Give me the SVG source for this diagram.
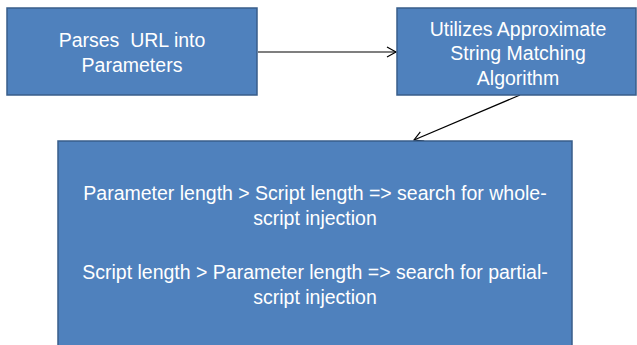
<svg xmlns="http://www.w3.org/2000/svg" width="637" height="345" viewBox="0 0 637 345">
<style>
.box{fill:#4F81BD;stroke:#385D8A;stroke-width:1.5}
.t{font-family:"Liberation Sans",Arial,sans-serif;font-size:19.5px;fill:#FFFFFF;text-anchor:middle}
.c{stroke:#000;stroke-width:1.2;fill:none}
</style>
<defs>
<marker id="ah" markerWidth="12" markerHeight="12" refX="10" refY="6" orient="auto" markerUnits="userSpaceOnUse">
<path d="M1,1 L10,6 L1,11" fill="none" stroke="#000" stroke-width="1.2"/>
</marker>
</defs>
<g id="connectors">
<line class="c" x1="258" y1="52" x2="396" y2="52" marker-end="url(#ah)"/>
<line class="c" x1="520" y1="95" x2="414" y2="140" marker-end="url(#ah)"/>
</g>
<g id="node1">
<rect class="box" x="7" y="8" width="250" height="87"/>
<text class="t" x="132" y="47" xml:space="preserve">Parses  URL into</text>
<text class="t" x="132" y="72">Parameters</text>
</g>
<g id="node2">
<rect class="box" x="397" y="8" width="239" height="87"/>
<text class="t" x="518" y="36">Utilizes Approximate</text>
<text class="t" x="518" y="60">String Matching</text>
<text class="t" x="518" y="85">Algorithm</text>
</g>
<g id="node3">
<rect class="box" x="58" y="141" width="514" height="210"/>
<text class="t" x="315" y="200">Parameter length &gt; Script length =&gt; search for whole-</text>
<text class="t" x="315" y="225">script injection</text>
<text class="t" x="315" y="279">Script length &gt; Parameter length =&gt; search for partial-</text>
<text class="t" x="315" y="304">script injection</text>
</g>
</svg>
